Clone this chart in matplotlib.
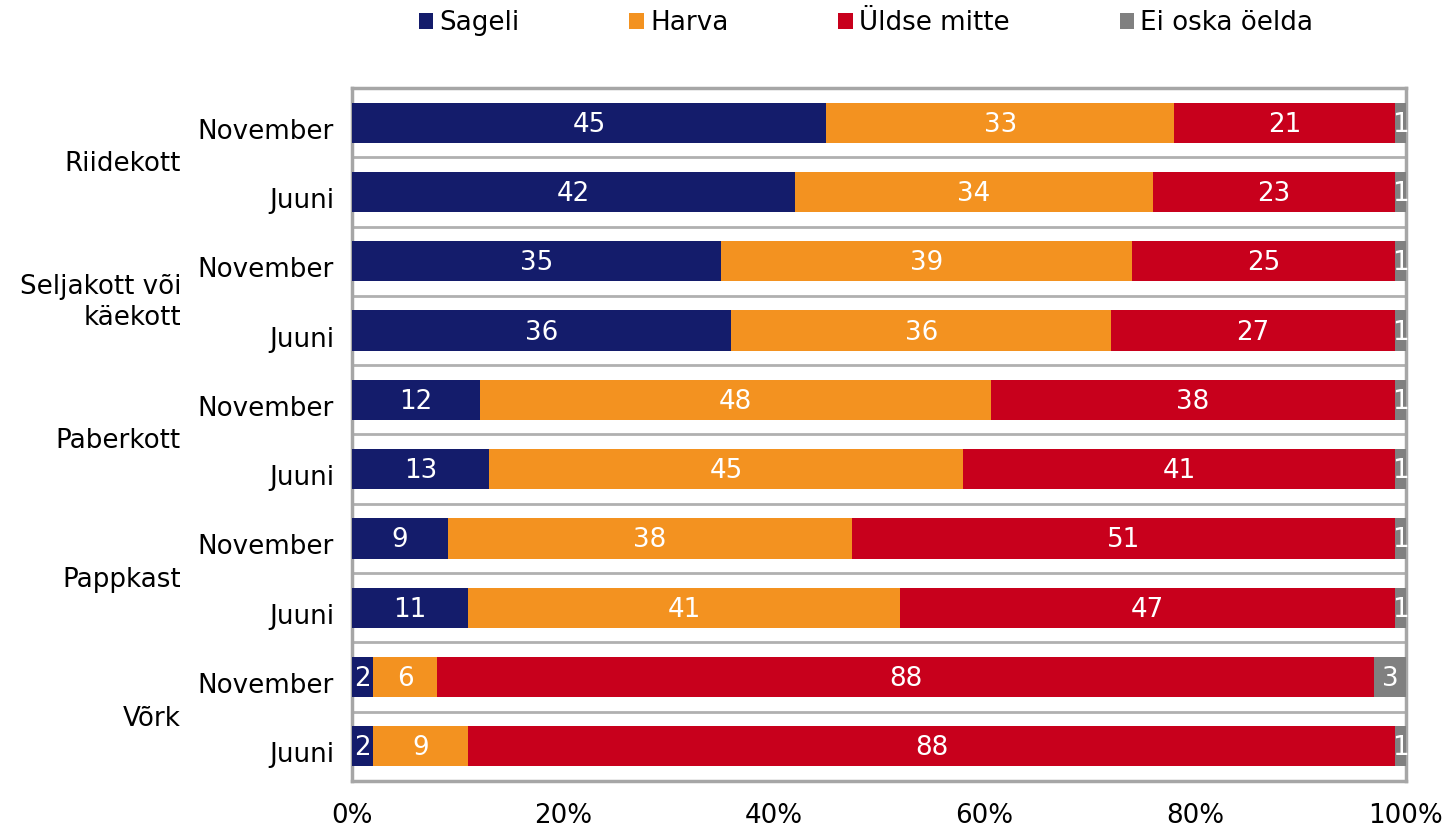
import matplotlib
matplotlib.use("Agg")
import matplotlib.pyplot as plt
import matplotlib.transforms as mtransforms
from matplotlib.patches import Patch
import numpy as np

plt.rcParams['font.family'] = ['DejaVu Sans']

groups = ["Riidekott", "Seljakott või\nkäekott", "Paberkott", "Pappkast", "Võrk"]
periods = ["November", "Juuni"]
series = ["Sageli", "Harva", "Üldse mitte", "Ei oska öelda"]
colors = ["#141c6b", "#f39220", "#c8001c", "#808080"]

sageli = [45, 42, 35, 36, 12, 13, 9, 11, 2, 2]
harva = [33, 34, 39, 36, 48, 45, 38, 41, 6, 9]
uldse = [21, 23, 25, 27, 38, 41, 51, 47, 88, 88]
ei_oska = [1, 1, 1, 1, 1, 1, 1, 1, 3, 1]

xticks = [0, 20, 40, 60, 80, 100]
xticklabels = ["0%", "20%", "40%", "60%", "80%", "100%"]

data = np.array([sageli, harva, uldse, ei_oska], dtype=float)
totals = data.sum(axis=0)
shares = data / totals * 100

W, H = 1448, 830
fig = plt.figure(figsize=(W / 100, H / 100), dpi=100)
ax = fig.add_axes([352 / W, 1 - 781 / H, (1406 - 352) / W, (781 - 88) / H])

def down(px):
    return mtransforms.ScaledTranslation(0, -px / 100, fig.dpi_scale_trans)

n = len(sageli)
y = np.arange(n)
left = np.zeros(n)
fs = 18.8
for i in range(4):
    ax.barh(y, shares[i], left=left, height=0.58, color=colors[i], zorder=3)
    for j in range(n):
        ax.text(left[j] + shares[i][j] / 2, y[j], f"{int(data[i][j])}",
                ha="center", va="center", color="white", fontsize=fs, zorder=4,
                transform=ax.transData + down(2))
    left += shares[i]

for k in range(1, n):
    ax.axhline(k - 0.5, color="#b0b0b0", lw=2, zorder=2)

ax.set_xlim(0, 100)
ax.set_ylim(n - 0.5, -0.5)
ax.set_xticks(xticks)
ax.set_xticklabels(xticklabels, fontsize=fs)
ax.set_yticks(y)
ax.set_yticklabels(periods * len(groups), fontsize=fs)
ax.tick_params(axis="both", length=0)
ax.tick_params(axis="x", pad=16)
ax.tick_params(axis="y", pad=13)
for lab in ax.get_yticklabels():
    lab.set_transform(lab.get_transform() + down(6))
for s in ax.spines.values():
    s.set_color("#a6a6a6")
    s.set_linewidth(2.5)

trans = mtransforms.blended_transform_factory(fig.transFigure, ax.transData) + down(7)
for g, name in enumerate(groups):
    ax.text(181 / W, 2 * g + 0.5, name, transform=trans, ha="right", va="center",
            fontsize=fs, linespacing=1.25)

handles = [Patch(facecolor=c, edgecolor="none") for c in colors]
fig.legend(handles, series, loc="center", bbox_to_anchor=(866 / W, 1 - 23 / H),
           ncol=4, frameon=False, fontsize=fs, handlelength=0.55, handleheight=0.55,
           handletextpad=0.25, columnspacing=4.2)

fig.savefig("out.png", dpi=100)
